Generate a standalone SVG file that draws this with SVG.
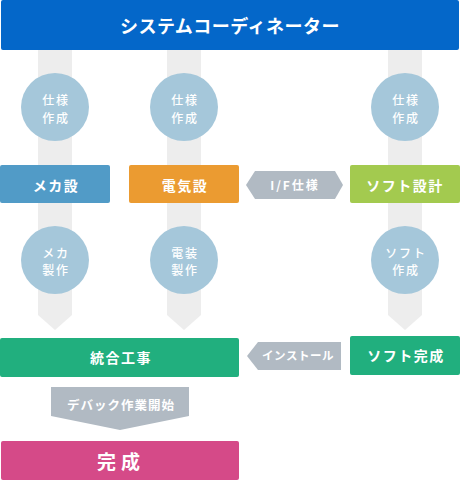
<svg xmlns="http://www.w3.org/2000/svg" width="460" height="480" viewBox="0 0 460 480">
<style>
text{font-family:"Noto Sans CJK JP","Noto Sans",sans-serif;font-weight:bold;fill:#fff;text-anchor:middle;dominant-baseline:central}
.band{fill:#ededed}
.circ{fill:#a5c7da}
.ct{font-size:12px;letter-spacing:1.8px;font-weight:500}
.bt{font-size:14px;letter-spacing:1.5px}
.arr{fill:#b1bac3}
</style>
<g id="connectors">
<polygon class="band" points="38,50 72,50 72,315 55,330 38,315"/>
<polygon class="band" points="167,50 201,50 201,315 184,330 167,315"/>
<polygon class="band" points="388,50 422,50 422,315 405,330 388,315"/>
</g>
<g id="coordinator">
<rect x="1" y="0" width="458" height="50" rx="2" fill="#0467c9"/>
<text x="230" y="25" style="font-size:18px;letter-spacing:0.5px">システムコーディネーター</text>
</g>
<g id="spec1"><circle class="circ" cx="55" cy="107" r="34"/><text class="ct" x="56" y="99.5">仕様</text><text class="ct" x="56" y="117">作成</text></g>
<g id="spec2"><circle class="circ" cx="184" cy="107" r="34"/><text class="ct" x="185" y="99.5">仕様</text><text class="ct" x="185" y="117">作成</text></g>
<g id="spec3"><circle class="circ" cx="405" cy="107" r="34"/><text class="ct" x="406" y="99.5">仕様</text><text class="ct" x="406" y="117">作成</text></g>
<g id="mecha-design"><rect x="0" y="165" width="110" height="38" rx="2" fill="#519bc7"/><text class="bt" x="56" y="185">メカ設</text></g>
<g id="elec-design"><rect x="129" y="165" width="110" height="38" rx="2" fill="#eb9b31"/><text class="bt" x="185" y="185">電気設</text></g>
<g id="if-spec"><polygon class="arr" points="246,185 255,171 335,171 343,185 335,199 255,199"/><text x="295" y="184" style="font-size:12px;letter-spacing:2px">I/F仕様</text></g>
<g id="soft-design"><rect x="350" y="165" width="110" height="38" rx="2" fill="#a3ca4f"/><text class="bt" x="405" y="185">ソフト設計</text></g>
<g id="mecha-make"><circle class="circ" cx="55" cy="260" r="34"/><text class="ct" x="56" y="252">メカ</text><text class="ct" x="56" y="269.5">製作</text></g>
<g id="elec-make"><circle class="circ" cx="184" cy="260" r="34"/><text class="ct" x="185" y="252">電装</text><text class="ct" x="185" y="269.5">製作</text></g>
<g id="soft-make"><circle class="circ" cx="405" cy="260" r="34"/><text class="ct" x="406" y="252">ソフト</text><text class="ct" x="406" y="269.5">作成</text></g>
<g id="integration"><rect x="0" y="338" width="239" height="39" rx="2" fill="#21af7e"/><text class="bt" x="121" y="357">統合工事</text></g>
<g id="install"><polygon class="arr" points="247,356 258,342 341,342 341,370 258,370"/><text x="298" y="355" style="font-size:11.5px;letter-spacing:0.5px">インストール</text></g>
<g id="soft-done"><rect x="350" y="336" width="110" height="39" rx="2" fill="#21af7e"/><text class="bt" x="406" y="355">ソフト完成</text></g>
<g id="debug"><polygon class="arr" points="51,387 189,387 189,416 120,430 51,416"/><text x="121" y="404" style="font-size:12.5px;letter-spacing:1px">デバック作業開始</text></g>
<g id="complete"><rect x="1" y="441" width="238" height="39" rx="2" fill="#d54a88"/><text x="121" y="460" style="font-size:19px;letter-spacing:5px">完成</text></g>
</svg>
